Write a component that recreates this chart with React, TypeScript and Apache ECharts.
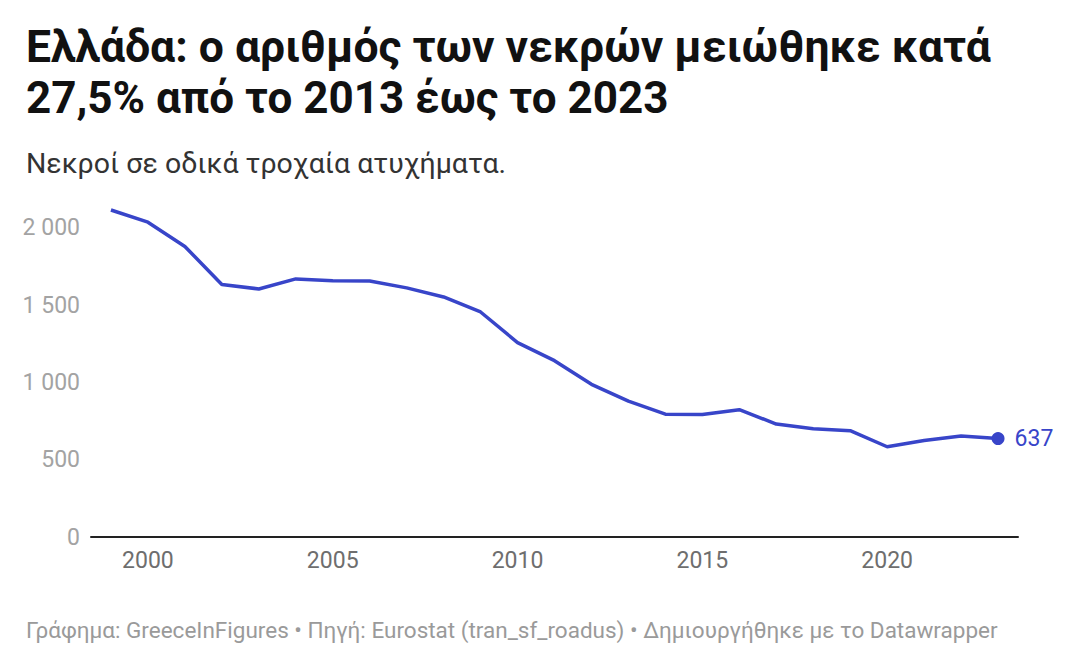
import React, { useEffect, useRef } from "react";
import * as echarts from "echarts";

const years = [1999, 2000, 2001, 2002, 2003, 2004, 2005, 2006, 2007, 2008, 2009, 2010, 2011, 2012, 2013, 2014, 2015, 2016, 2017, 2018, 2019, 2020, 2021, 2022, 2023];
const deaths = [2116, 2037, 1880, 1634, 1605, 1670, 1658, 1657, 1612, 1553, 1456, 1258, 1141, 988, 879, 795, 793, 824, 731, 700, 688, 584, 624, 654, 637];
const xTicks = [2000, 2005, 2010, 2015, 2020];
const yTicks = [0, 500, 1000, 1500, 2000];

const titleLine1 = "Ελλάδα: ο αριθμός των νεκρών μειώθηκε κατά";
const titleLine2 = "27,5% από το 2013 έως το 2023";
const subtitle = "Νεκροί σε οδικά τροχαία ατυχήματα.";
const footer = "Γράφημα: GreeceInFigures • Πηγή: Eurostat (tran_sf_roadus) • Δημιουργήθηκε με το Datawrapper";

const LINE = "#3845c9";
const FONT = "Roboto";

export default function App() {
  const ref = useRef<HTMLDivElement>(null);
  useEffect(() => {
    if (!ref.current) return;
    const chart = echarts.init(ref.current, undefined, { renderer: "svg" });
    const data = years.map((y, i) => [y, deaths[i]]);
    const last = data[data.length - 1];
    chart.setOption({
      animation: false,
      backgroundColor: "#ffffff",
      textStyle: { fontFamily: FONT },
      title: [
        { text: titleLine1, left: 21, top: 19, textStyle: { fontFamily: FONT, fontSize: 44.5, fontWeight: "bold", color: "#111111" } },
        { text: titleLine2, left: 21, top: 71, textStyle: { fontFamily: FONT, fontSize: 44, fontWeight: "bold", color: "#111111" } },
        { text: subtitle, left: 21, top: 144, textStyle: { fontFamily: FONT, fontSize: 28.5, fontWeight: "normal", color: "#333333" } },
        { text: footer, left: 21, top: 613, textStyle: { fontFamily: FONT, fontSize: 22.5, fontWeight: "normal", color: "#9a9a9a" } },
      ],
      grid: { left: 91, right: 58, top: 197, height: 340, containLabel: false },
      xAxis: {
        type: "value",
        min: 1998.46,
        max: 2023.54,
        axisLine: { show: true, lineStyle: { color: "#222222", width: 2 } },
        axisTick: { show: false },
        splitLine: { show: false },
        axisLabel: {
          customValues: xTicks,
          color: "#6e6e6e",
          fontSize: 23,
          fontFamily: FONT,
          margin: 12,
          formatter: (v: number) => String(v),
        },
      },
      yAxis: {
        type: "value",
        min: 0,
        max: 2200,
        axisLine: { show: false },
        axisTick: { show: false },
        splitLine: { show: false },
        axisLabel: {
          customValues: yTicks,
          color: "#a3a3a3",
          fontSize: 23,
          fontFamily: FONT,
          margin: 11,
          formatter: (v: number) => (v >= 1000 ? Math.floor(v / 1000) + " " + String(v % 1000).padStart(3, "0") : String(v)),
        },
      },
      series: [
        {
          type: "line",
          data,
          symbol: "none",
          lineStyle: { color: LINE, width: 3.5 },
          z: 2,
        },
        {
          type: "scatter",
          data: [last],
          symbolSize: 13,
          itemStyle: { color: LINE, opacity: 1 },
          label: {
            show: true,
            position: "right",
            distance: 10,
            color: LINE,
            fontSize: 23,
            fontFamily: FONT,
            formatter: (p: any) => String(p.value[1]),
          },
          z: 3,
        },
      ],
    });
    return () => chart.dispose();
  }, []);
  return <div ref={ref} style={{ position: "absolute", left: 0, top: 0, width: 1076, height: 662 }} />;
}
